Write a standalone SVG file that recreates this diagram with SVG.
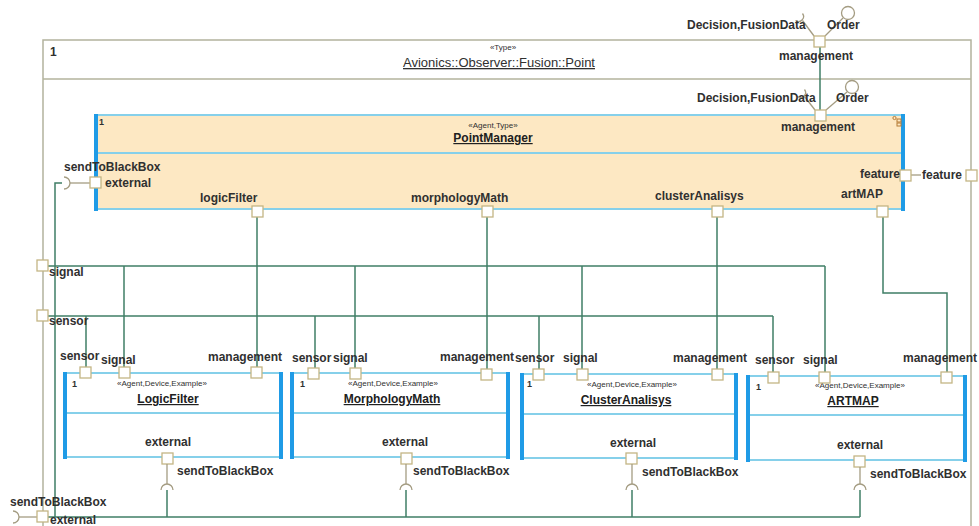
<svg xmlns="http://www.w3.org/2000/svg" width="979" height="526" viewBox="0 0 979 526">
  <style>
    .lbl { font-family: "Liberation Sans", Arial, sans-serif; font-size: 12px; font-weight: bold; fill: #303030; }
    .title { font-family: "Liberation Sans", Arial, sans-serif; font-size: 13px; fill: #303030; text-decoration: underline; }
    .name { font-family: "Liberation Sans", Arial, sans-serif; font-size: 12px; font-weight: bold; fill: #202020; text-decoration: underline; }
    .stereo { font-family: "Liberation Sans", Arial, sans-serif; font-size: 8px; fill: #303030; }
    .mult { font-family: "Liberation Sans", Arial, sans-serif; font-size: 9px; font-weight: bold; fill: #303030; }
    .frame { fill: none; stroke: #b3b39d; stroke-width: 1.5; }
    .port { fill: #ffffff; stroke: #c4b584; stroke-width: 1.3; }
    .edgeThick { stroke: #1f9be6; stroke-width: 4; }
    .edgeThin { stroke: #86d0ea; stroke-width: 2; }
    .wire { fill: none; stroke: #3f7e66; stroke-width: 1.5; }
    .iface { fill: none; stroke: #a49c82; stroke-width: 1.3; }
  </style>

  <!-- Enclosing type frame -->
  <g id="frame-point">
    <rect x="0" y="0" width="979" height="526" fill="#ffffff"/>
    <path class="frame" d="M43,526 V40 H971 V526"/>
    <line class="frame" x1="43" y1="79" x2="971" y2="79"/>
    <text class="lbl" x="50" y="56">1</text>
    <text class="stereo" x="503" y="50" text-anchor="middle">«Type»</text>
    <text class="title" x="499" y="67" text-anchor="middle">Avionics::Observer::Fusion::Point</text>
  </g>

  <!-- Connectors -->
  <g id="connectors">
    <line class="wire" x1="820" y1="47" x2="820" y2="110"/>
    <line class="wire" x1="257" y1="217" x2="257" y2="367"/>
    <line class="wire" x1="487" y1="217" x2="487" y2="369"/>
    <line class="wire" x1="717" y1="217" x2="717" y2="369"/>
    <polyline class="wire" points="883,217 883,293 947,293 947,372"/>
    <!-- signal bus -->
    <polyline class="wire" points="48,266 825,266"/>
    <line class="wire" x1="124" y1="266" x2="124" y2="367"/>
    <line class="wire" x1="355" y1="266" x2="355" y2="368"/>
    <line class="wire" x1="582" y1="266" x2="582" y2="369"/>
    <line class="wire" x1="825" y1="266" x2="825" y2="372"/>
    <!-- sensor bus -->
    <polyline class="wire" points="48,316 773,316"/>
    <line class="wire" x1="86" y1="316" x2="86" y2="367"/>
    <line class="wire" x1="315" y1="316" x2="315" y2="368"/>
    <line class="wire" x1="539" y1="316" x2="539" y2="369"/>
    <line class="wire" x1="773" y1="316" x2="773" y2="372"/>
    <line class="wire" x1="319" y1="373" x2="350" y2="373"/>
    <!-- sendToBlackBox bus -->
    <polyline class="wire" points="62,183 55,183 55,517"/>
    <line class="wire" x1="48" y1="517" x2="860" y2="517"/>
    <line class="wire" x1="167" y1="490" x2="167" y2="517"/>
    <line class="wire" x1="406" y1="490" x2="406" y2="517"/>
    <line class="wire" x1="632" y1="490" x2="632" y2="517"/>
    <line class="wire" x1="860" y1="490" x2="860" y2="517"/>
    <!-- feature delegation -->
    <line class="iface" x1="911" y1="175" x2="921" y2="175"/>
  </g>

  <!-- Outer ports of the frame -->
  <g id="frame-ports">
    <line class="iface" x1="814" y1="36" x2="802.5" y2="20.5"/>
    <path class="iface" d="M795.5,20.5 A5,5 0 0 0 802.5,13.5"/>
    <line class="iface" x1="825" y1="36" x2="843" y2="18"/>
    <circle class="iface" cx="848" cy="13" r="6.5"/>
    <rect class="port" x="814" y="36" width="11" height="11"/>
    <text class="lbl" x="687" y="29">Decision,FusionData</text>
    <text class="lbl" x="827" y="29">Order</text>
    <text class="lbl" x="779" y="60">management</text>

    <rect class="port" x="966" y="170" width="11" height="11"/>
    <text class="lbl" x="922" y="179">feature</text>

    <rect class="port" x="37" y="260" width="11" height="11"/>
    <text class="lbl" x="49" y="276">signal</text>
    <rect class="port" x="37" y="310" width="11" height="11"/>
    <text class="lbl" x="49" y="325">sensor</text>

    <path class="iface" d="M13,511 A6,6 0 0 1 13,523"/>
    <line class="iface" x1="19" y1="517" x2="37" y2="517"/>
    <rect class="port" x="37" y="511" width="11" height="11"/>
    <text class="lbl" x="10" y="506">sendToBlackBox</text>
    <text class="lbl" x="50" y="524">external</text>
  </g>

  <!-- PointManager part -->
  <g id="point-manager">
    <rect x="94" y="114" width="811" height="96" fill="#fde8c3"/>
    <line class="edgeThin" x1="94" y1="115" x2="905" y2="115"/>
    <line class="edgeThin" x1="94" y1="209" x2="905" y2="209"/>
    <line class="edgeThin" x1="96" y1="153" x2="903" y2="153"/>
    <line class="edgeThick" x1="96" y1="114" x2="96" y2="211"/>
    <line class="edgeThick" x1="903" y1="114" x2="903" y2="211"/>
    <text class="mult" x="99" y="125">1</text>
    <text class="stereo" x="493" y="128" text-anchor="middle">«Agent,Type»</text>
    <text class="name" x="493" y="142" text-anchor="middle">PointManager</text>
    <!-- composite structure icon -->
    <g fill="none" stroke="#b47a35" stroke-width="1">
      <circle cx="894.5" cy="118" r="1.6"/>
      <rect x="897" y="119" width="4" height="3"/>
      <rect x="897" y="123" width="4" height="3"/>
    </g>

    <line class="iface" x1="815" y1="110" x2="804.5" y2="96.5"/>
    <path class="iface" d="M797.5,96.5 A5,5 0 0 0 804.5,89.5"/>
    <line class="iface" x1="826" y1="110" x2="847" y2="92"/>
    <circle class="iface" cx="852" cy="87" r="6.5"/>
    <rect class="port" x="815" y="110" width="11" height="11"/>
    <text class="lbl" x="697" y="102">Decision,FusionData</text>
    <text class="lbl" x="836" y="102">Order</text>
    <text class="lbl" x="781" y="131">management</text>

    <path class="iface" d="M64,177 A6,6 0 0 1 64,189"/>
    <line class="iface" x1="70" y1="183" x2="90" y2="183"/>
    <rect class="port" x="90" y="177" width="11" height="11"/>
    <text class="lbl" x="64" y="171">sendToBlackBox</text>
    <text class="lbl" x="105" y="187">external</text>

    <rect class="port" x="252" y="206" width="11" height="11"/>
    <text class="lbl" x="200" y="202">logicFilter</text>
    <rect class="port" x="482" y="206" width="11" height="11"/>
    <text class="lbl" x="411" y="202">morphologyMath</text>
    <rect class="port" x="712" y="206" width="11" height="11"/>
    <text class="lbl" x="655" y="200">clusterAnalisys</text>
    <rect class="port" x="877" y="206" width="11" height="11"/>
    <text class="lbl" x="841" y="198">artMAP</text>

    <rect class="port" x="900" y="170" width="11" height="11"/>
    <text class="lbl" x="860" y="178">feature</text>
  </g>

  <!-- LogicFilter part -->
  <g id="logic-filter">
    <rect x="63" y="372" width="220" height="86" fill="#ffffff"/>
    <line class="edgeThin" x1="63" y1="373" x2="283" y2="373"/>
    <line class="edgeThin" x1="63" y1="457" x2="283" y2="457"/>
    <line class="edgeThin" x1="65" y1="413" x2="281" y2="413"/>
    <line class="edgeThick" x1="65" y1="372" x2="65" y2="459"/>
    <line class="edgeThick" x1="281" y1="372" x2="281" y2="459"/>
    <text class="mult" x="72" y="387">1</text>
    <text class="stereo" x="162" y="386" text-anchor="middle">«Agent,Device,Example»</text>
    <text class="name" x="168" y="403" text-anchor="middle">LogicFilter</text>
    <rect class="port" x="80" y="367" width="11" height="11"/>
    <rect class="port" x="119" y="367" width="11" height="11"/>
    <rect class="port" x="251" y="367" width="11" height="11"/>
    <text class="lbl" x="60" y="360">sensor</text>
    <text class="lbl" x="101" y="364">signal</text>
    <text class="lbl" x="208" y="361">management</text>
    <text class="lbl" x="145" y="446">external</text>
    <rect class="port" x="162" y="453" width="11" height="11"/>
    <line class="iface" x1="167" y1="464" x2="167" y2="484"/>
    <path class="iface" d="M161,490 A6,6 0 0 1 173,490"/>
    <text class="lbl" x="177" y="475">sendToBlackBox</text>
  </g>

  <!-- MorphologyMath part -->
  <g id="morphology-math">
    <rect x="290" y="372" width="220" height="86" fill="#ffffff"/>
    <line class="edgeThin" x1="290" y1="373" x2="510" y2="373"/>
    <line class="edgeThin" x1="290" y1="457" x2="510" y2="457"/>
    <line class="edgeThin" x1="292" y1="413" x2="508" y2="413"/>
    <line class="edgeThick" x1="292" y1="372" x2="292" y2="459"/>
    <line class="edgeThick" x1="508" y1="372" x2="508" y2="459"/>
    <text class="mult" x="300" y="387">1</text>
    <text class="stereo" x="393" y="386" text-anchor="middle">«Agent,Device,Example»</text>
    <text class="name" x="392" y="403" text-anchor="middle">MorphologyMath</text>
    <rect class="port" x="308" y="368" width="11" height="11"/>
    <rect class="port" x="350" y="368" width="11" height="11"/>
    <rect class="port" x="481" y="369" width="11" height="11"/>
    <text class="lbl" x="292" y="362">sensor</text>
    <text class="lbl" x="333" y="362">signal</text>
    <text class="lbl" x="440" y="361">management</text>
    <text class="lbl" x="382" y="446">external</text>
    <rect class="port" x="401" y="453" width="11" height="11"/>
    <line class="iface" x1="406" y1="464" x2="406" y2="484"/>
    <path class="iface" d="M400,490 A6,6 0 0 1 412,490"/>
    <text class="lbl" x="413" y="475">sendToBlackBox</text>
  </g>

  <!-- ClusterAnalisys part -->
  <g id="cluster-analisys">
    <rect x="520" y="373" width="218" height="86" fill="#ffffff"/>
    <line class="edgeThin" x1="520" y1="374" x2="738" y2="374"/>
    <line class="edgeThin" x1="520" y1="458" x2="738" y2="458"/>
    <line class="edgeThin" x1="522" y1="414" x2="736" y2="414"/>
    <line class="edgeThick" x1="522" y1="373" x2="522" y2="460"/>
    <line class="edgeThick" x1="736" y1="373" x2="736" y2="460"/>
    <text class="mult" x="527" y="387">1</text>
    <text class="stereo" x="632" y="387" text-anchor="middle">«Agent,Device,Example»</text>
    <text class="name" x="626" y="404" text-anchor="middle">ClusterAnalisys</text>
    <rect class="port" x="533" y="369" width="11" height="11"/>
    <rect class="port" x="577" y="369" width="11" height="11"/>
    <rect class="port" x="712" y="369" width="11" height="11"/>
    <text class="lbl" x="515" y="362">sensor</text>
    <text class="lbl" x="563" y="362">signal</text>
    <text class="lbl" x="673" y="362">management</text>
    <text class="lbl" x="610" y="447">external</text>
    <rect class="port" x="626" y="453" width="11" height="11"/>
    <line class="iface" x1="632" y1="464" x2="632" y2="484"/>
    <path class="iface" d="M626,490 A6,6 0 0 1 638,490"/>
    <text class="lbl" x="642" y="476">sendToBlackBox</text>
  </g>

  <!-- ARTMAP part -->
  <g id="artmap">
    <rect x="746" y="375" width="221" height="86" fill="#ffffff"/>
    <line class="edgeThin" x1="746" y1="376" x2="967" y2="376"/>
    <line class="edgeThin" x1="746" y1="460" x2="967" y2="460"/>
    <line class="edgeThin" x1="748" y1="415" x2="965" y2="415"/>
    <line class="edgeThick" x1="748" y1="375" x2="748" y2="462"/>
    <line class="edgeThick" x1="965" y1="375" x2="965" y2="462"/>
    <text class="mult" x="756" y="390">1</text>
    <text class="stereo" x="860" y="388" text-anchor="middle">«Agent,Device,Example»</text>
    <text class="name" x="853" y="405" text-anchor="middle">ARTMAP</text>
    <rect class="port" x="768" y="372" width="11" height="11"/>
    <rect class="port" x="819" y="372" width="11" height="11"/>
    <rect class="port" x="941" y="372" width="11" height="11"/>
    <text class="lbl" x="755" y="364">sensor</text>
    <text class="lbl" x="803" y="364">signal</text>
    <text class="lbl" x="903" y="362">management</text>
    <text class="lbl" x="837" y="449">external</text>
    <rect class="port" x="854" y="456" width="11" height="11"/>
    <line class="iface" x1="860" y1="467" x2="860" y2="484"/>
    <path class="iface" d="M854,490 A6,6 0 0 1 866,490"/>
    <text class="lbl" x="870" y="478">sendToBlackBox</text>
  </g>
</svg>
